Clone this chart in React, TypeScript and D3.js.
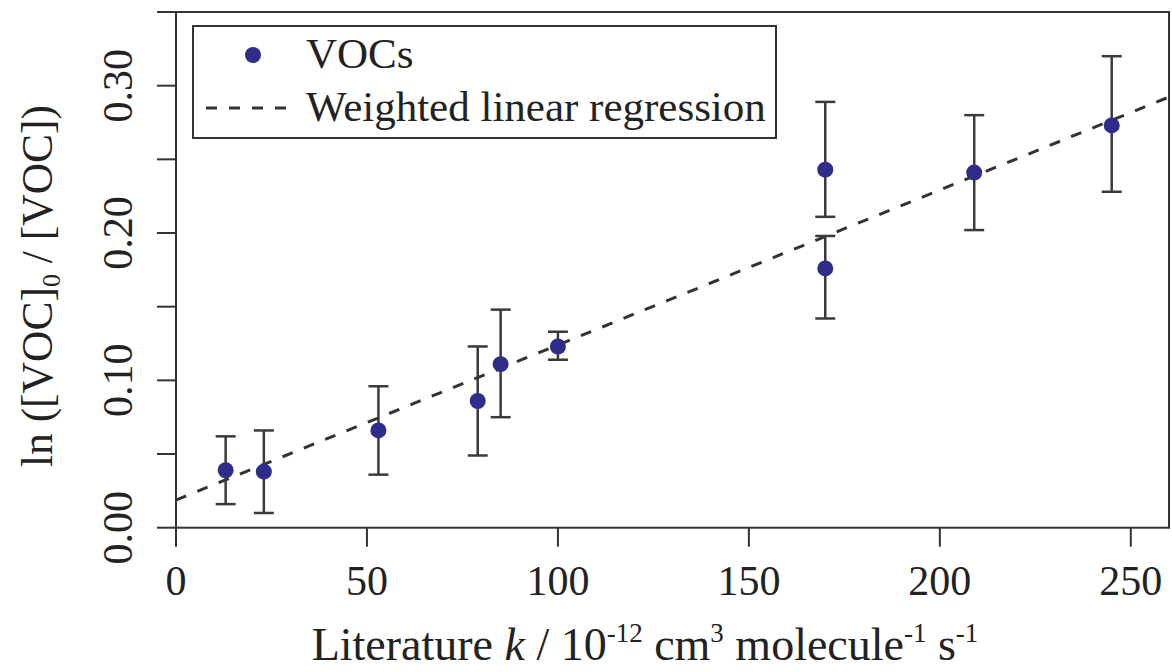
import React from "react";
import * as d3 from "d3";

const kValues = [13, 23, 53, 79, 85, 100, 170, 170, 209, 245];
const lnValues = [0.039, 0.038, 0.066, 0.086, 0.111, 0.123, 0.176, 0.243, 0.241, 0.273];
const errUpper = [0.062, 0.066, 0.096, 0.123, 0.148, 0.133, 0.198, 0.289, 0.28, 0.32];
const errLower = [0.016, 0.01, 0.036, 0.049, 0.075, 0.114, 0.142, 0.211, 0.202, 0.228];
const regIntercept = 0.0188;
const regSlope = 0.001052;
const xTicks = [0, 50, 100, 150, 200, 250];
const yTicks = [0, 0.05, 0.1, 0.15, 0.2, 0.25, 0.3, 0.35];
const yLabelTicks = [0, 0.1, 0.2, 0.3];
const legendLabels = ["VOCs", "Weighted linear regression"];

const W = 1172;
const H = 672;
const FONT = "'Liberation Serif', 'Times New Roman', serif";
const AX = "#333333";
const DOT = "#302c8a";
const TXT = "#222222";

export default function App() {
  const x = d3.scaleLinear().domain([0, 260]).range([176, 1169]);
  const y = d3.scaleLinear().domain([0, 0.35]).range([527.7, 12]);
  const [x0, x1] = x.range();
  const [y0, y1] = y.range();
  const tickLen = 19;

  const regLine = d3
    .line<number>()
    .x((d) => x(d))
    .y((d) => y(regIntercept + regSlope * d));
  const fmt = d3.format(".2f");

  return (
    <svg
      width={W}
      height={H}
      style={{ position: "absolute", left: 0, top: 0, background: "#ffffff" }}
      fontFamily={FONT}
    >
      <defs>
        <clipPath id="plotClip">
          <rect x={x0} y={y1} width={x1 - x0} height={y0 - y1} />
        </clipPath>
      </defs>

      {/* regression line */}
      <path
        d={regLine(x.domain()) || ""}
        fill="none"
        stroke="#333333"
        strokeWidth={3}
        strokeDasharray="11 12"
        clipPath="url(#plotClip)"
      />

      {/* error bars */}
      {kValues.map((k, i) => (
        <g key={"e" + i} stroke="#3a3a3a" strokeWidth={2.5}>
          <line x1={x(k)} x2={x(k)} y1={y(errLower[i])} y2={y(errUpper[i])} />
          <line x1={x(k) - 10} x2={x(k) + 10} y1={y(errLower[i])} y2={y(errLower[i])} />
          <line x1={x(k) - 10} x2={x(k) + 10} y1={y(errUpper[i])} y2={y(errUpper[i])} />
        </g>
      ))}

      {/* points */}
      {kValues.map((k, i) => (
        <circle key={"p" + i} cx={x(k)} cy={y(lnValues[i])} r={8} fill={DOT} />
      ))}

      {/* frame */}
      <rect x={x0} y={y1} width={x1 - x0} height={y0 - y1} fill="none" stroke={AX} strokeWidth={2} />

      {/* y ticks */}
      {yTicks.map((t) => (
        <line key={"yt" + t} x1={x0 - tickLen} x2={x0} y1={y(t)} y2={y(t)} stroke={AX} strokeWidth={2} />
      ))}
      {yLabelTicks.map((t) => (
        <text
          key={"yl" + t}
          transform={`translate(132,${y(t)}) rotate(-90)`}
          textAnchor="middle"
          fontSize={42}
          fill={TXT}
        >
          {fmt(t)}
        </text>
      ))}

      {/* x ticks */}
      {xTicks.map((t) => (
        <g key={"xt" + t}>
          <line x1={x(t)} x2={x(t)} y1={y0} y2={y0 + tickLen} stroke={AX} strokeWidth={2} />
          <text x={x(t)} y={595} textAnchor="middle" fontSize={42} fill={TXT}>
            {t}
          </text>
        </g>
      ))}

      {/* x title */}
      <text x={645} y={660} textAnchor="middle" fontSize={46} fill={TXT}>
        Literature <tspan fontStyle="italic">k</tspan> / 10
        <tspan fontSize={27} dy={-18}>-12</tspan>
        <tspan dy={18}> cm</tspan>
        <tspan fontSize={27} dy={-18}>3</tspan>
        <tspan dy={18}> molecule</tspan>
        <tspan fontSize={27} dy={-18}>-1</tspan>
        <tspan dy={18}> s</tspan>
        <tspan fontSize={27} dy={-18}>-1</tspan>
      </text>

      {/* y title */}
      <text transform="translate(52,286) rotate(-90)" textAnchor="middle" fontSize={43.5} fill={TXT}>
        ln ([VOC]
        <tspan fontSize={26} dy={8}>0</tspan>
        <tspan dy={-8}> / [VOC])</tspan>
      </text>

      {/* legend */}
      <rect x={193} y={26} width={583} height={112} fill="#ffffff" stroke={AX} strokeWidth={2} />
      <circle cx={253} cy={55} r={8} fill={DOT} />
      <text x={306} y={68} fontSize={43} fill={TXT}>
        {legendLabels[0]}
      </text>
      <line x1={206} x2={290} y1={108} y2={108} stroke="#333333" strokeWidth={3} strokeDasharray="11 12" />
      <text x={306} y={121} fontSize={43} fill={TXT}>
        {legendLabels[1]}
      </text>
    </svg>
  );
}
